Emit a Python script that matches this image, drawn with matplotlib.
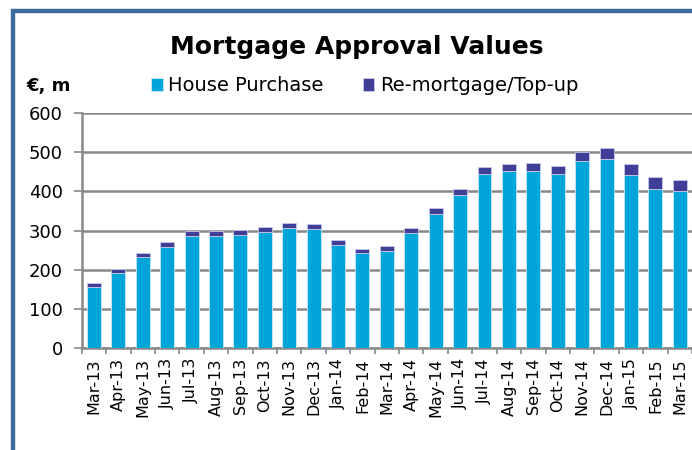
import matplotlib.pyplot as plt
from matplotlib.lines import Line2D
import numpy as np

months = ['Mar-13', 'Apr-13', 'May-13', 'Jun-13', 'Jul-13', 'Aug-13', 'Sep-13',
          'Oct-13', 'Nov-13', 'Dec-13', 'Jan-14', 'Feb-14', 'Mar-14', 'Apr-14',
          'May-14', 'Jun-14', 'Jul-14', 'Aug-14', 'Sep-14', 'Oct-14', 'Nov-14',
          'Dec-14', 'Jan-15', 'Feb-15', 'Mar-15']
house_purchase = [157, 191, 232, 258, 286, 286, 288, 296, 308, 304, 264, 242, 249,
                  295, 343, 390, 444, 451, 452, 444, 478, 483, 442, 406, 400]
remortgage = [9, 10, 12, 13, 14, 14, 14, 13, 12, 12, 11, 10, 12,
              12, 15, 16, 18, 18, 21, 21, 23, 29, 28, 32, 29]

hp_color = '#00A5D9'
rm_color = '#403F98'
grid_color = '#888888'

fig = plt.figure(figsize=(6.92, 4.5), dpi=100)
ax = fig.add_axes([81.7 / 692, 1 - 348.3 / 450, 1 - 81.7 / 692, (348.3 - 113) / 450])

x = np.arange(len(months))
ax.bar(x, house_purchase, width=0.57, color=hp_color, edgecolor='#c6e8f6', linewidth=0.6,
       label='House Purchase', zorder=3)
ax.bar(x, remortgage, width=0.57, bottom=house_purchase, color=rm_color,
       edgecolor='#c9c8e6', linewidth=0.6, label='Re-mortgage/Top-up', zorder=3)

ax.set_ylim(0, 600)
ax.set_xlim(-0.5, len(months) - 0.5)
ax.set_yticks(range(0, 601, 100))
ax.yaxis.grid(True, color=grid_color, linewidth=1.8, zorder=0)
ax.set_axisbelow(True)

ax.set_xticks(x)
ax.set_xticklabels(months, rotation=90, fontsize=11.5)
ax.set_xticks(np.arange(-0.5, len(months), 1), minor=True)
ax.tick_params(axis='x', which='major', length=0, pad=7)
ax.tick_params(axis='x', which='minor', length=4, width=1.2, color=grid_color)
ax.tick_params(axis='y', length=5.5, width=1.2, color=grid_color, labelsize=13, pad=8)

for side in ['top', 'right']:
    ax.spines[side].set_visible(False)
for side in ['left', 'bottom']:
    ax.spines[side].set_color(grid_color)
    ax.spines[side].set_linewidth(1.8)

fig.text(0.516, 0.896, 'Mortgage Approval Values', ha='center', va='center',
         fontsize=18, fontweight='bold')
fig.text(0.07, 0.809, '€, m', ha='center', va='center', fontsize=13, fontweight='bold')

fig.legend(loc='center', bbox_to_anchor=(0.527, 0.809), ncol=2, frameon=False,
           fontsize=14, handlelength=0.6, handleheight=0.6, handletextpad=0.3,
           columnspacing=2.0)

# blue outer frame (only top and left edges are visible)
fig.add_artist(Line2D([13 / 692, 13 / 692, 1.0], [0.0, 1 - 11 / 450, 1 - 11 / 450],
                      transform=fig.transFigure, color='#3F6A9E', linewidth=3.2,
                      solid_joinstyle='miter'))

fig.savefig('out.png', dpi=100)
